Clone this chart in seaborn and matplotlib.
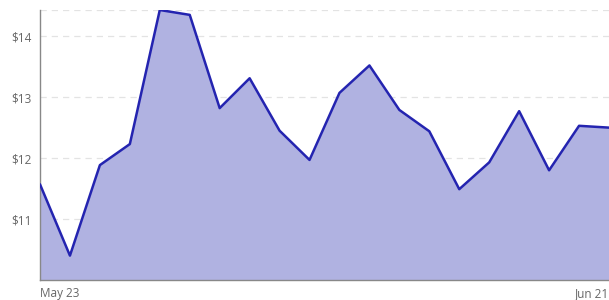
import matplotlib
matplotlib.use("Agg")
import matplotlib.pyplot as plt
import seaborn as sns
import pandas as pd

# Data
prices = [11.57, 10.40, 11.885, 12.23, 14.43, 14.35, 12.82, 13.31, 12.45, 11.97,
          13.07, 13.52, 12.79, 12.44, 11.49, 11.93, 12.77, 11.80, 12.53, 12.50]
x_index = list(range(len(prices)))
x_tick_labels = ["May 23", "Jun 21"]
y_ticks = [11, 12, 13, 14]
y_tick_labels = ["$11", "$12", "$13", "$14"]

df = pd.DataFrame({"x": x_index, "price": prices})

sns.set_style("white")
plt.rcParams['font.family'] = ['Open Sans', 'DejaVu Sans']

fig = plt.figure(figsize=(6.09, 3.00), dpi=100)
ax = fig.add_axes([40 / 609, 20 / 300, 569 / 609, 270 / 300])

line_color = "#2424b0"
fill_color = "#b0b2e1"

ax.fill_between(df["x"], df["price"], 10.0, color=fill_color, linewidth=0, zorder=1)
sns.lineplot(data=df, x="x", y="price", ax=ax, color=line_color, linewidth=1.8, zorder=3)

ymin, ymax = 10.0, max(prices)
ax.set_ylim(ymin, ymax)
ax.set_xlim(x_index[0], x_index[-1])

ax.set_yticks(y_ticks)
ax.set_yticklabels(y_tick_labels)
for yt in y_ticks + [ymax]:
    ax.axhline(yt, color="#e3e3e3", linestyle=(0, (5, 4)), linewidth=0.9, zorder=0)

ax.set_xticks([x_index[0], x_index[-1]])
ax.set_xticklabels(x_tick_labels)
xt = ax.get_xticklabels()
xt[0].set_ha("left")
xt[1].set_ha("right")

ax.tick_params(axis="both", length=0, labelsize=8.5, labelcolor="#666666")
ax.tick_params(axis="y", pad=6)
ax.tick_params(axis="x", pad=5)

ax.set_xlabel("")
ax.set_ylabel("")
for s in ["top", "right"]:
    ax.spines[s].set_visible(False)
ax.spines["left"].set_color("#888888")
ax.spines["bottom"].set_color("#888888")
ax.spines["left"].set_linewidth(1.0)
ax.spines["bottom"].set_linewidth(1.0)

fig.savefig("out.png", dpi=100)
